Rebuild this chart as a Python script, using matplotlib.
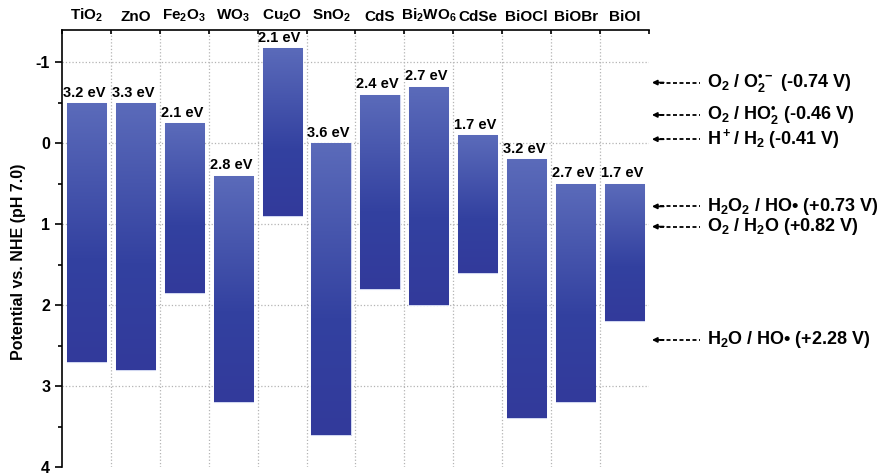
import numpy as np
import matplotlib
matplotlib.use('Agg')
import matplotlib.pyplot as plt
from matplotlib.colors import LinearSegmentedColormap

plt.rcParams['font.family'] = ['Liberation Sans', 'DejaVu Sans']
plt.rcParams['font.weight'] = 'bold'
plt.rcParams['mathtext.fontset'] = 'custom'
plt.rcParams['mathtext.rm'] = 'Liberation Sans:bold'
plt.rcParams['mathtext.bf'] = 'Liberation Sans:bold'
plt.rcParams['mathtext.default'] = 'rm'

# semiconductors: conduction band (top) and valence band (bottom) vs NHE
materials = ['TiO$_2$', 'ZnO', 'Fe$_2$O$_3$', 'WO$_3$', 'Cu$_2$O', 'SnO$_2$',
             'CdS', 'Bi$_2$WO$_6$', 'CdSe', 'BiOCl', 'BiOBr', 'BiOI']
cb = [-0.5, -0.5, -0.25, 0.4, -1.18, 0.0, -0.6, -0.7, -0.1, 0.2, 0.5, 0.5]
vb = [2.7, 2.8, 1.85, 3.2, 0.9, 3.6, 1.8, 2.0, 1.6, 3.4, 3.2, 2.2]
gaps = ['3.2 eV', '3.3 eV', '2.1 eV', '2.8 eV', '2.1 eV', '3.6 eV',
        '2.4 eV', '2.7 eV', '1.7 eV', '3.2 eV', '2.7 eV', '1.7 eV']

# redox couples on the right (label, where the arrow sits on the axis)
redox_labels = ['O$_2$ / O$_2^{\u2022\u2212}$ (-0.74 V)',
                'O$_2$ / HO$_2^{\u2022}$ (-0.46 V)',
                'H$^+$/ H$_2$ (-0.41 V)',
                'H$_2$O$_2$ / HO\u2022 (+0.73 V)',
                'O$_2$ / H$_2$O (+0.82 V)',
                'H$_2$O / HO\u2022 (+2.28 V)']
redox_pos = [-0.75, -0.35, -0.05, 0.78, 1.03, 2.43]

fig = plt.figure(figsize=(8.82, 4.74), dpi=100)
ax = fig.add_axes([0.0703, 0.0148, 0.6655, 0.922])

x = np.arange(len(materials))
heights = np.array(vb) - np.array(cb)

cmap = LinearSegmentedColormap.from_list(
    'band', [(0.0, '#5b6bba'), (0.6, '#3341a0'), (1.0, '#323a9b')])
grad = np.linspace(0, 1, 256).reshape(-1, 1)

bars = ax.bar(x, heights, bottom=cb, width=0.8, color='#3a46a3',
              edgecolor='#d0d6f0', linewidth=0.8, zorder=3)
for b, top, bot in zip(bars, cb, vb):
    im = ax.imshow(grad, cmap=cmap, aspect='auto', zorder=3.5,
                   extent=[b.get_x(), b.get_x() + b.get_width(), bot, top])
    im.set_clip_path(b)

for xi, top, g in zip(x, cb, gaps):
    ax.text(xi - 0.05, top - 0.04, g, ha='center', va='bottom',
            fontsize=10.5, fontweight='bold', zorder=5)

ax.set_xlim(-0.5, len(materials) - 0.5)
ax.set_ylim(4, -1.4)

# category boundaries as dotted grid lines
for xb in np.arange(0.5, len(materials) - 0.5, 1):
    ax.axvline(xb, color='#b4b4b4', ls=':', lw=0.9, zorder=1)
for yv in range(-1, 4):
    ax.axhline(yv, color='#b4b4b4', ls=':', lw=0.9, zorder=1)

ax.set_xticks(np.arange(-0.5, len(materials), 1))
ax.set_xticklabels([])
ax.xaxis.set_ticks_position('top')
ax.tick_params(axis='x', direction='in', length=3, width=1.2)
for xi, m in zip(x, materials):
    ax.text(xi, -1.47, m, ha='center', va='bottom', fontsize=11,
            fontweight='bold', clip_on=False)

ax.set_yticks([-1, 0, 1, 2, 3, 4])
ax.set_yticks(np.arange(-0.5, 4, 1), minor=True)
ax.set_yticklabels(['-1', '0', '1', '2', '3', '4'], fontsize=11.5, fontweight='bold')
ax.tick_params(axis='y', which='major', length=5, width=1.2)
ax.tick_params(axis='y', which='minor', length=3, width=1.2)
ax.set_ylabel('Potential vs. NHE (pH 7.0)', fontsize=11.5, fontweight='bold')
ax.yaxis.set_label_coords(-0.062, 0.47)

ax.spines['right'].set_visible(False)
ax.spines['bottom'].set_visible(False)
ax.spines['left'].set_linewidth(1.2)
ax.spines['top'].set_linewidth(1.2)

for lab, yp in zip(redox_labels, redox_pos):
    ax.plot([11.72, 12.55], [yp, yp], color='k', ls=(0, (2.2, 1.4)), lw=1.3,
            clip_on=False)
    ax.annotate('', xy=(11.56, yp), xytext=(11.8, yp),
                arrowprops=dict(arrowstyle='-|>', color='k', lw=1.3,
                                mutation_scale=7, shrinkA=0, shrinkB=0),
                annotation_clip=False)
    ax.text(12.68, yp, lab, ha='left', va='center', fontsize=13,
            fontweight='bold', clip_on=False)

fig.savefig('out.png', dpi=100)
